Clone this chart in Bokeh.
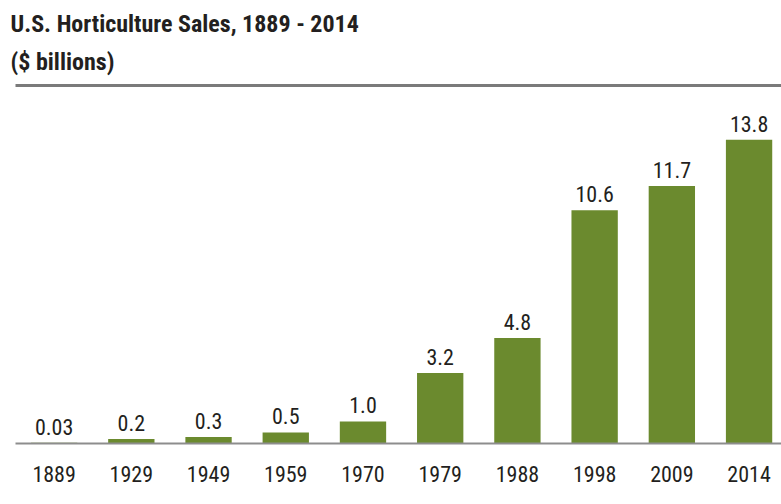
from bokeh.plotting import figure
from bokeh.models import ColumnDataSource, FixedTicker, LinearAxis, Title, Range1d
from bokeh.core.properties import value
from bokeh.embed import file_html
from bokeh.resources import INLINE

years = ["1889", "1929", "1949", "1959", "1970", "1979", "1988", "1998", "2009", "2014"]
sales = [0.03, 0.2, 0.3, 0.5, 1.0, 3.2, 4.8, 10.6, 11.7, 13.8]
value_labels = ["0.03", "0.2", "0.3", "0.5", "1.0", "3.2", "4.8", "10.6", "11.7", "13.8"]

FONT = "Roboto Condensed"
TXT = "#231f20"
GREEN = "#6b8a2e"

idx = list(range(len(years)))
src = ColumnDataSource(dict(x=idx, top=sales, lab=value_labels))

p = figure(width=781, height=500, output_backend="svg", toolbar_location=None,
           x_range=Range1d(-0.5, 9.42), y_range=Range1d(0, 16.27),
           y_axis_location=None, min_border_left=15, min_border_right=0,
           min_border_bottom=57, min_border_top=85)
p.outline_line_color = None
p.xgrid.visible = False
p.ygrid.visible = False
p.background_fill_color = "white"
p.border_fill_color = "white"

p.vbar(x="x", top="top", width=0.6, source=src, fill_color=GREEN, line_color=None)
p.text(x="x", y="top", text="lab", source=src, text_align="center",
       text_baseline="bottom", y_offset=-8, text_font_size="22px",
       text_font=value(FONT), text_color=TXT)

ax = p.xaxis[0]
ax.ticker = FixedTicker(ticks=idx)
ax.major_label_overrides = {i: y for i, y in zip(idx, years)}
ax.major_tick_line_color = None
ax.minor_tick_line_color = None
ax.axis_line_color = "#8d8d8d"
ax.axis_line_width = 2
ax.major_label_standoff = 16
ax.major_label_text_font_size = "22px"
ax.major_label_text_font = FONT
ax.major_label_text_color = TXT

top_ax = LinearAxis(ticker=FixedTicker(ticks=[]), axis_line_color="#7a7a7a",
                    axis_line_width=3, major_tick_line_color=None,
                    minor_tick_line_color=None, major_label_text_font_size="0px")
p.add_layout(top_ax, "above")

sub = Title(text="($ billions)", text_font=FONT, text_font_size="24px",
            text_font_style="bold", text_color=TXT, align="left", offset=-5,
            standoff=20)
p.add_layout(sub, "above")
main = Title(text="U.S. Horticulture Sales, 1889 - 2014", text_font=FONT,
             text_font_size="24px", text_font_style="bold", text_color=TXT,
             align="left", offset=-5, standoff=-4)
p.add_layout(main, "above")

open("out.html", "w").write(file_html(p, INLINE))
